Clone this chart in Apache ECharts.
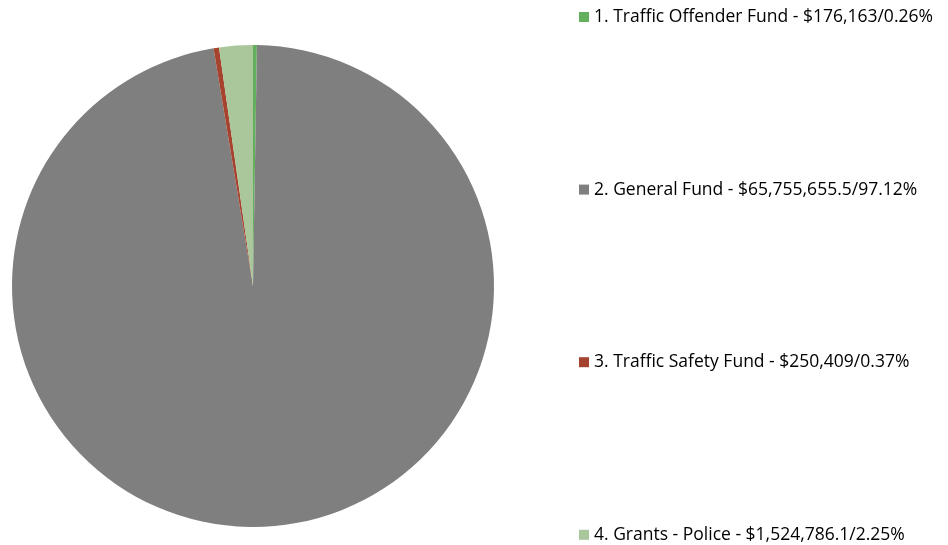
<!DOCTYPE html>
<html>
<head>
<meta charset="utf-8">
<script src="https://cdn.jsdelivr.net/npm/echarts@6/dist/echarts.min.js"></script>
<style>
html, body { margin: 0; padding: 0; background: #fff; }
#chart { width: 948px; height: 545px; }
</style>
</head>
<body>
<div id="chart"></div>
<script>
// Fund sources
const fundNames = ['Traffic Offender Fund', 'General Fund', 'Traffic Safety Fund', 'Grants - Police'];
const fundAmounts = [176163, 65755655.5, 250409, 1524786.1];
const fundPercents = ['0.26%', '97.12%', '0.37%', '2.25%'];
const fundAmountLabels = ['$176,163', '$65,755,655.5', '$250,409', '$1,524,786.1'];
const fundColors = ['#63b05c', '#7f7f7f', '#a5432f', '#a9c79b'];

const legendNames = fundNames.map((n, i) =>
  (i + 1) + '. ' + n + ' - ' + fundAmountLabels[i] + '/' + fundPercents[i]);

// one legend entry per fund, stacked down the right side
const legendRowStep = 172.6;
const legends = legendNames.map((n, i) => ({
  orient: 'vertical',
  left: 579,
  top: 7 + i * legendRowStep,
  padding: 0,
  itemWidth: 10,
  itemHeight: 10,
  itemGap: 0,
  icon: 'rect',
  textStyle: { fontFamily: 'Open Sans', fontSize: 17.5, color: '#000', lineHeight: 20 },
  data: [n]
}));

const chart = echarts.init(document.getElementById('chart'));
chart.setOption({
  animation: false,
  legend: legends,
  series: [{
    type: 'pie',
    center: [253, 286],
    radius: 241,
    startAngle: 90,
    clockwise: true,
    label: { show: false },
    labelLine: { show: false },
    emphasis: { disabled: true },
    itemStyle: { borderWidth: 0 },
    data: legendNames.map((n, i) => ({
      name: n,
      value: fundAmounts[i],
      itemStyle: { color: fundColors[i] }
    }))
  }]
});
</script>
</body>
</html>
